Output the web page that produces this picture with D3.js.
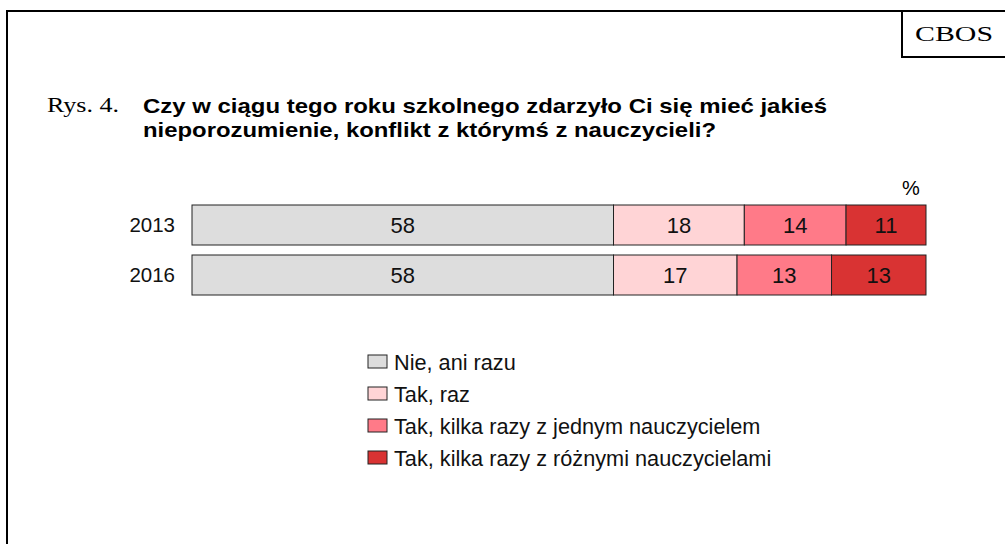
<!DOCTYPE html>
<html><head><meta charset="utf-8">
<script src="https://cdn.jsdelivr.net/npm/d3@7"></script>
<style>body{margin:0;background:#fff}svg{display:block}</style>
</head><body>
<script>
const years = ["2013", "2016"];
const seriesNames = ["Nie, ani razu", "Tak, raz", "Tak, kilka razy z jednym nauczycielem", "Tak, kilka razy z różnymi nauczycielami"];
const values2013 = [58, 18, 14, 11];
const values2016 = [58, 17, 13, 13];
const colors = ["#dddddd", "#ffd4d6", "#ff7a88", "#d93333"];
const titleLines = ["Czy w ciągu tego roku szkolnego zdarzyło Ci się mieć jakieś", "nieporozumienie, konflikt z którymś z nauczycieli?"];

const W = 1005, H = 544;
const svg = d3.select("body").append("svg").attr("width", W).attr("height", H);
const serif = "Liberation Serif, Times New Roman, serif";
const font = "Liberation Sans, Arial, sans-serif";

// frame
svg.append("path").attr("d", `M7,${H} V11 H${W}`).attr("fill", "none").attr("stroke", "#000").attr("stroke-width", 2);
svg.append("path").attr("d", `M902,11 V57 H${W}`).attr("fill", "none").attr("stroke", "#000").attr("stroke-width", 2);
svg.append("text").attr("x", 915).attr("y", 41)
  .attr("font-family", serif).attr("font-size", 22)
  .attr("textLength", 78).attr("lengthAdjust", "spacingAndGlyphs").text("CBOS");

svg.append("text").attr("x", 47).attr("y", 112)
  .attr("font-family", serif).attr("font-size", 21)
  .attr("textLength", 72).attr("lengthAdjust", "spacingAndGlyphs").text("Rys. 4.");
const titleWidths = [684, 573];
titleLines.forEach((t, i) => {
  svg.append("text").attr("x", 143).attr("y", 113 + i * 24)
    .attr("font-family", font).attr("font-weight", "bold")
    .attr("font-size", 21).attr("textLength", titleWidths[i]).attr("lengthAdjust", "spacingAndGlyphs").text(t);
});

const rows = [values2013, values2016];
const x = d3.scaleLinear().domain([0, 101]).range([192, 926]);
const y = d3.scaleBand().domain(years).range([205, 295]).paddingInner(0.2).paddingOuter(0);

rows.forEach((vals, r) => {
  const yr = years[r];
  let cum = 0;
  const segs = vals.map((v, i) => { const s = {v, i, x0: cum, x1: cum + v}; cum += v; return s; });
  const g = svg.append("g");
  g.selectAll("rect").data(segs).join("rect")
    .attr("x", d => x(d.x0)).attr("y", y(yr))
    .attr("width", d => x(d.x1) - x(d.x0)).attr("height", y.bandwidth())
    .attr("fill", d => colors[d.i]).attr("stroke", "#222").attr("stroke-width", 1);
  g.selectAll("text").data(segs).join("text")
    .attr("x", d => (x(d.x0) + x(d.x1)) / 2).attr("y", y(yr) + y.bandwidth() / 2)
    .attr("dy", "0.36em").attr("text-anchor", "middle")
    .attr("font-family", font).attr("font-size", 22).attr("fill", "#111").text(d => d.v);
  svg.append("text").attr("x", 175).attr("y", y(yr) + y.bandwidth() / 2).attr("dy", "0.36em")
    .attr("text-anchor", "end").attr("font-family", font).attr("font-size", 20.5).attr("fill", "#111").text(yr);
});

svg.append("text").attr("x", 911).attr("y", 195).attr("text-anchor", "middle")
  .attr("font-family", font).attr("font-size", 20).text("%");

// legend
const lg = svg.append("g").attr("transform", "translate(368,0)");
seriesNames.forEach((n, i) => {
  const cy = 362 + i * 32;
  lg.append("rect").attr("x", 0).attr("y", cy - 7).attr("width", 19).attr("height", 13)
    .attr("fill", colors[i]).attr("stroke", "#222").attr("stroke-width", 1);
  lg.append("text").attr("x", 26).attr("y", cy).attr("dy", "0.36em")
    .attr("font-family", font).attr("font-size", 21.7).attr("fill", "#111").text(n);
});
</script>
</body></html>
